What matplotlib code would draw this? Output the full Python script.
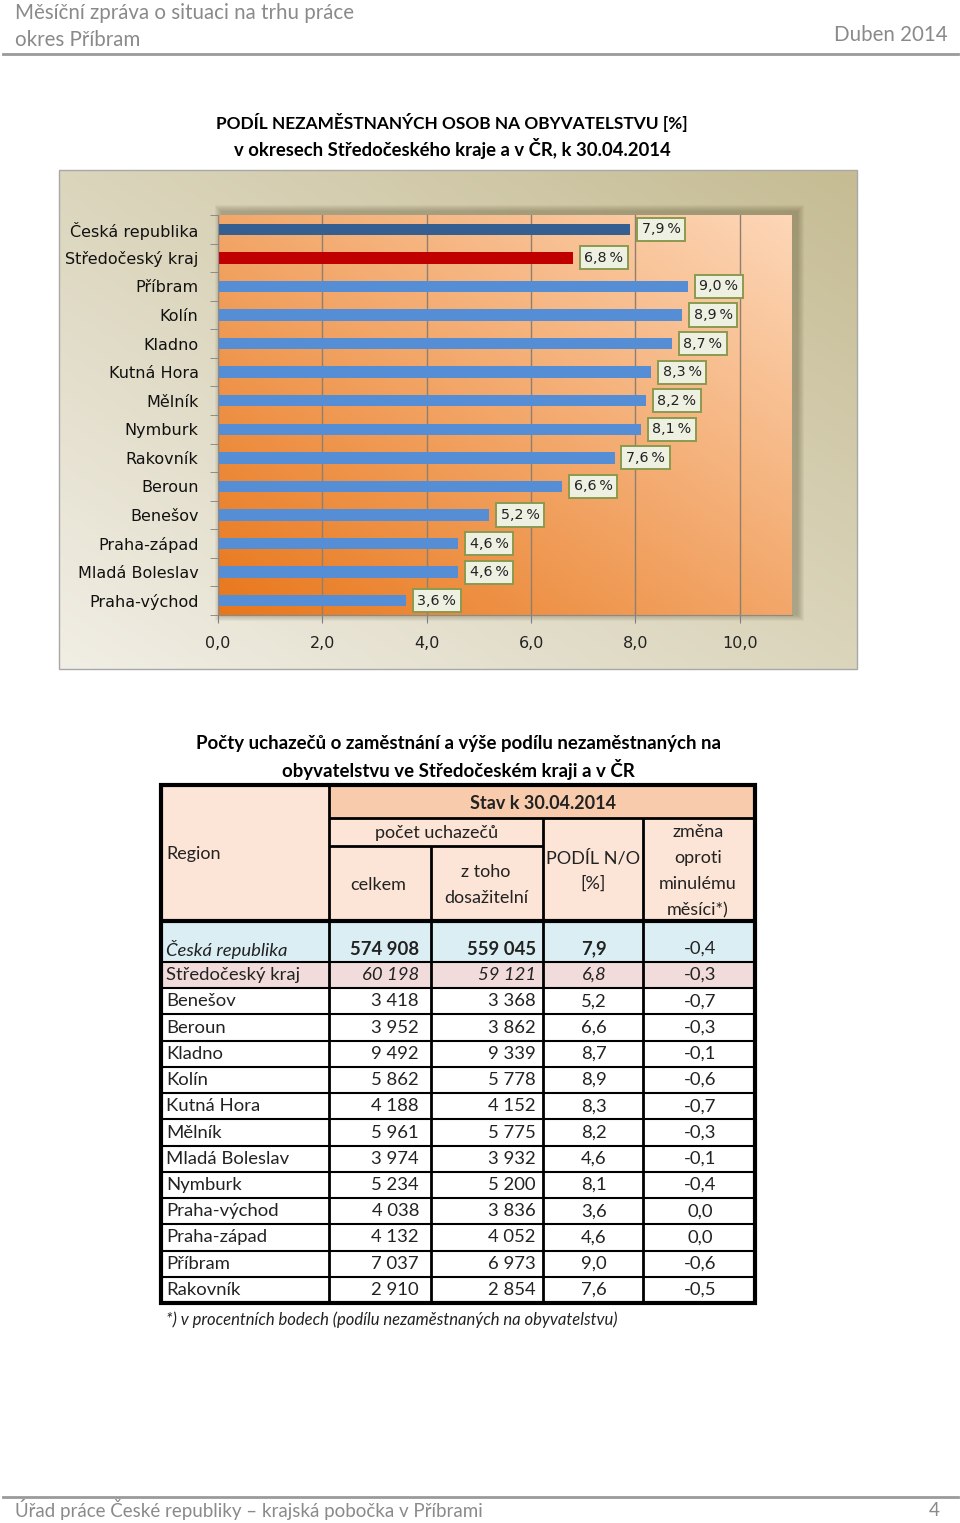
import numpy as np
import matplotlib
matplotlib.use('Agg')
import matplotlib.pyplot as plt
from matplotlib.patches import Rectangle
from matplotlib.colors import to_rgb

# bar chart data (top to bottom)
categories = ['Česká republika', 'Středočeský kraj', 'Příbram', 'Kolín', 'Kladno',
              'Kutná Hora', 'Mělník', 'Nymburk', 'Rakovník', 'Beroun', 'Benešov',
              'Praha-západ', 'Mladá Boleslav', 'Praha-východ']
values = [7.9, 6.8, 9.0, 8.9, 8.7, 8.3, 8.2, 8.1, 7.6, 6.6, 5.2, 4.6, 4.6, 3.6]
xticks = [0, 2, 4, 6, 8, 10]

# table data
regions = ['Česká republika', 'Středočeský kraj', 'Benešov', 'Beroun', 'Kladno', 'Kolín',
           'Kutná Hora', 'Mělník', 'Mladá Boleslav', 'Nymburk', 'Praha-východ',
           'Praha-západ', 'Příbram', 'Rakovník']
celkem = [574908, 60198, 3418, 3952, 9492, 5862, 4188, 5961, 3974, 5234, 4038, 4132, 7037, 2910]
dosazitelni = [559045, 59121, 3368, 3862, 9339, 5778, 4152, 5775, 3932, 5200, 3836, 4052, 6973, 2854]
podil = [7.9, 6.8, 5.2, 6.6, 8.7, 8.9, 8.3, 8.2, 4.6, 8.1, 3.6, 4.6, 9.0, 7.6]
zmena = [-0.4, -0.3, -0.7, -0.3, -0.1, -0.6, -0.7, -0.3, -0.1, -0.4, 0.0, 0.0, -0.6, -0.5]

W, H = 960, 1523
LATO = ['Lato', 'DejaVu Sans']
GREY = '#8a8a8a'
TFS = 13   # table text size


def grad(c1, c2, n=200):
    # diagonal gradient: c1 bottom-left -> c2 top-right
    x = np.linspace(0, 1, n)
    xx, yy = np.meshgrid(x, x)
    t = (xx + (1 - yy)) / 2.0
    a, b = np.array(to_rgb(c1)), np.array(to_rgb(c2))
    return a[None, None, :] * (1 - t[..., None]) + b[None, None, :] * t[..., None]


def num(n):
    return f'{n:,}'.replace(',', ' ')


def dec(v):
    return f'{v:.1f}'.replace('.', ',')


fig = plt.figure(figsize=(W / 100, H / 100), dpi=100)
page = fig.add_axes([0, 0, 1, 1])
page.set_xlim(0, W)
page.set_ylim(H, 0)
page.axis('off')

# header / footer
page.text(15, 13, 'Měsíční zpráva o situaci na trhu práce', fontsize=14.8, color=GREY,
          family=LATO, va='center')
page.text(15, 40, 'okres Příbram', fontsize=14.8, color=GREY, family=LATO, va='center')
page.text(948, 35, 'Duben 2014', fontsize=14.8, color=GREY, family=LATO, va='center', ha='right')
page.plot([3, 958], [54, 54], color='#9a9a9a', lw=2)
page.plot([3, 958], [1497, 1497], color='#9a9a9a', lw=2)
page.text(15, 1510, 'Úřad práce České republiky – krajská pobočka v Příbrami', fontsize=13.5,
          color=GREY, family=LATO, va='center')
page.text(940, 1510, '4', fontsize=13.5, color=GREY, family=LATO, va='center', ha='right')

# chart title
page.text(452, 122, 'PODÍL NEZAMĚSTNANÝCH OSOB NA OBYVATELSTVU [%]', fontsize=12.4,
          fontweight='bold', family=LATO, ha='center', va='center')
page.text(452, 148, 'v okresech Středočeského kraje a v ČR, k 30.04.2014', fontsize=13.3,
          fontweight='bold', family=LATO, ha='center', va='center')

# chart frame background
page.imshow(grad('#f1eee5', '#c5bc93'), extent=[59, 857, 669, 170], aspect='auto', zorder=0)
page.add_patch(Rectangle((59, 170), 798, 499, fill=False, ec='#a8a8a8', lw=1, zorder=1))
# soft shadow behind plot area
for k in range(7):
    page.add_patch(Rectangle((221 - k, 211 - k), 577 + 2 * k, 404 + 2 * k,
                             color='#5a5030', alpha=0.06, lw=0, zorder=1))
page.set_xlim(0, W)
page.set_ylim(H, 0)

# bar chart
n = len(categories)
ax = fig.add_axes([218 / W, 1 - 615 / H, (792 - 218) / W, (615 - 215) / H])
ax.set_facecolor('none')
ax.imshow(grad('#e8771b', '#fdd7b8'), extent=[0, 11, n - 0.5, -0.5], aspect='auto', zorder=0)
colors = ['#365f91', '#c00000'] + ['#558ed5'] * (n - 2)
y = np.arange(n)
ax.barh(y, values, height=0.4, color=colors, zorder=2)
for yi, v in zip(y, values):
    ax.text(v + 0.22, yi, dec(v) + '\u2009%', fontsize=10.3, va='center', ha='left', color='#222222',
            bbox=dict(boxstyle='square,pad=0.32', fc='#eef0e2', ec='#8b9a4f', lw=1.4), zorder=3)
ax.set_xlim(0, 11)
ax.set_ylim(n - 0.5, -0.5)
ax.set_xticks(xticks)
ax.set_xticklabels([dec(t) for t in xticks], fontsize=11.5, color='#222222')
ax.set_yticks(y)
ax.set_yticklabels(categories, fontsize=11.5, color='#111111')
ax.set_yticks(np.arange(n + 1) - 0.5, minor=True)
ax.tick_params(axis='y', which='major', length=0, pad=14)
ax.tick_params(axis='y', which='minor', length=6, color='#7f7f7f', direction='out')
ax.tick_params(axis='x', length=6, color='#7f7f7f', pad=9)
ax.grid(axis='x', color='#8f7f6e', lw=1)
ax.set_axisbelow(True)
for s in ['top', 'right']:
    ax.spines[s].set_visible(False)
for s in ['left', 'bottom']:
    ax.spines[s].set_color('#8a8a8a')

# table
page.text(458, 743, 'Počty uchazečů o zaměstnání a výše podílu nezaměstnaných na', fontsize=13.4,
          fontweight='bold', family=LATO, ha='center', va='center')
page.text(458, 769, 'obyvatelstvu ve Středočeském kraji a v ČR', fontsize=13.4,
          fontweight='bold', family=LATO, ha='center', va='center')

L, R, T, B = 161, 755, 785, 1303
page.add_patch(Rectangle((L, T), R - L, 921 - T, fc='#fce4d6', lw=0, zorder=1))
page.add_patch(Rectangle((329, T), R - 329, 818 - T, fc='#f8cbad', lw=0, zorder=1))

row_top = [921, 962]
rh = (B - 962) / (len(regions) - 1)
for i in range(1, len(regions)):
    row_top.append(962 + rh * i)
row_fill = {0: '#daeef3', 1: '#f2dcdb'}
for i, f in row_fill.items():
    page.add_patch(Rectangle((L, row_top[i]), R - L, row_top[i + 1] - row_top[i], fc=f, lw=0, zorder=1))

lk = dict(color='black', zorder=3, solid_capstyle='butt')
page.plot([329, R], [818, 818], lw=2, **lk)
page.plot([329, 543], [846, 846], lw=2, **lk)
page.plot([L, R], [921, 921], lw=3, **lk)
page.plot([329, 329], [T, B], lw=2, **lk)
page.plot([431, 431], [846, B], lw=2, **lk)
page.plot([543, 543], [818, B], lw=2, **lk)
page.plot([643, 643], [818, B], lw=2, **lk)
for yt in row_top[1:-1]:
    page.plot([L, R], [yt, yt], lw=1.5, **lk)
page.add_patch(Rectangle((L, T), R - L, B - T, fill=False, ec='black', lw=3, zorder=4))

hk = dict(fontsize=TFS, family=LATO, ha='center', va='center', color='#222222', zorder=5)
page.text(543, 803, 'Stav k 30.04.2014', fontweight='bold', **hk)
page.text(437, 833, 'počet uchazečů', **hk)
page.text(378, 885, 'celkem', **hk)
page.text(486, 872, 'z toho', **hk)
page.text(486, 898, 'dosažitelní', **hk)
page.text(593, 858, 'PODÍL N/O', **hk)
page.text(593, 884, '[%]', **hk)
for j, s in enumerate(['změna', 'oproti', 'minulému', 'měsíci*)']):
    page.text(698, 832 + 26 * j, s, **hk)
page.text(166, 854, 'Region', fontsize=TFS, family=LATO, ha='left', va='center', color='#222222', zorder=5)

for i, r in enumerate(regions):
    yc = 949 if i == 0 else (row_top[i] + row_top[i + 1]) / 2
    style_r = 'italic' if i == 0 else 'normal'
    style_n = 'italic' if i == 1 else 'normal'
    wt = 'bold' if i == 0 else 'normal'
    tk = dict(fontsize=TFS + 0.3, family=LATO, va='center', color='#222222', zorder=5)
    page.text(166, yc, r, ha='left', style=style_r, **tk)
    page.text(419, yc, num(celkem[i]), ha='right', style=style_n, fontweight=wt, **tk)
    page.text(536, yc, num(dosazitelni[i]), ha='right', style=style_n, fontweight=wt, **tk)
    page.text(594, yc, dec(podil[i]), ha='center', style=style_n, fontweight=wt, **tk)
    page.text(700, yc, dec(zmena[i]), ha='center', **tk)

page.text(166, 1320, '*) v procentních bodech (podílu nezaměstnaných na obyvatelstvu)',
          fontsize=12, style='italic', family=LATO, ha='left', va='center', color='#222222')

fig.savefig('out.png', dpi=100)
